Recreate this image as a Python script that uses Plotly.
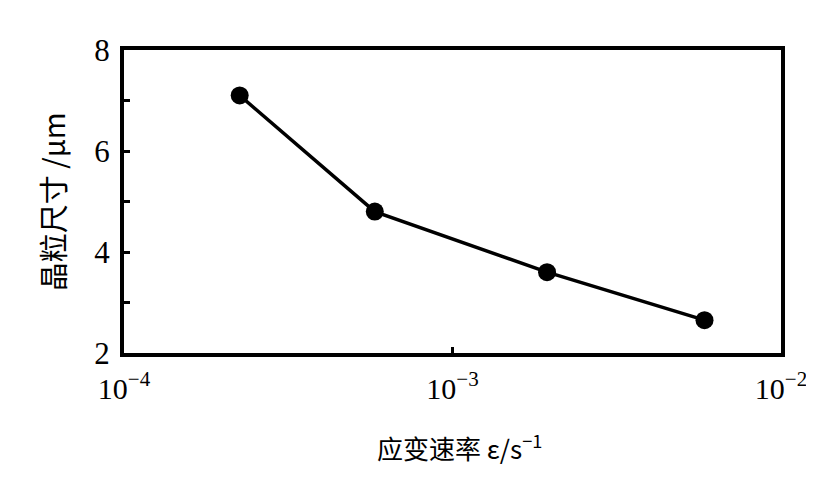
import plotly.graph_objects as go

strain_rate = [2.25e-4, 5.8e-4, 1.94e-3, 5.85e-3]
grain_size = [7.1, 4.8, 3.6, 2.65]
x_tickvals = [1e-4, 1e-3, 1e-2]
x_ticktext = ["10<sup>−4</sup>", "10<sup>−3</sup>", "10<sup>−2</sup>"]
y_tickvals = [2, 4, 6, 8]
y_ticktext = ["2", "4", "6", "8"]
y_minor = [3, 5, 7]

serif = "Liberation Serif"
cjk = "Noto Sans CJK SC"

fig = go.Figure()
fig.add_trace(go.Scatter(
    x=strain_rate, y=grain_size, mode="lines+markers",
    line=dict(color="black", width=3.5),
    marker=dict(color="black", size=18),
    showlegend=False,
))

fig.update_layout(
    width=814, height=481,
    margin=dict(l=116, r=41, t=42, b=136),
    paper_bgcolor="white", plot_bgcolor="white",
    xaxis=dict(
        type="log", range=[-4, -2],
        tickvals=x_tickvals, ticktext=x_ticktext,
        ticks="inside", ticklen=6, tickwidth=3, tickcolor="black",
        showline=True, linecolor="black", linewidth=4, mirror=True,
        showgrid=False, zeroline=False, ticklabelstandoff=6,
        tickfont=dict(family=serif, size=30, color="black"),
    ),
    yaxis=dict(
        range=[2, 8], tickvals=y_tickvals, ticktext=y_ticktext,
        minor=dict(tickvals=y_minor, ticks="inside", ticklen=6, tickwidth=3, tickcolor="black"),
        ticks="inside", ticklen=6, tickwidth=3, tickcolor="black",
        showline=True, linecolor="black", linewidth=4, mirror=True,
        showgrid=False, zeroline=False, ticklabelstandoff=4,
        tickfont=dict(family=serif, size=31, color="black"),
    ),
)

fig.add_annotation(text="晶粒尺寸 /μm", xref="paper", yref="paper",
                   x=-0.11, y=0.5, xanchor="center", yanchor="middle",
                   textangle=-90, showarrow=False,
                   font=dict(family=cjk, size=29, color="black"))
fig.add_annotation(text="应变速率 ε/s<sup>−1</sup>", xref="paper", yref="paper",
                   x=0.51, y=-0.31, xanchor="center", yanchor="middle",
                   showarrow=False,
                   font=dict(family=cjk, size=26, color="black"))

fig.write_html("out.html")
